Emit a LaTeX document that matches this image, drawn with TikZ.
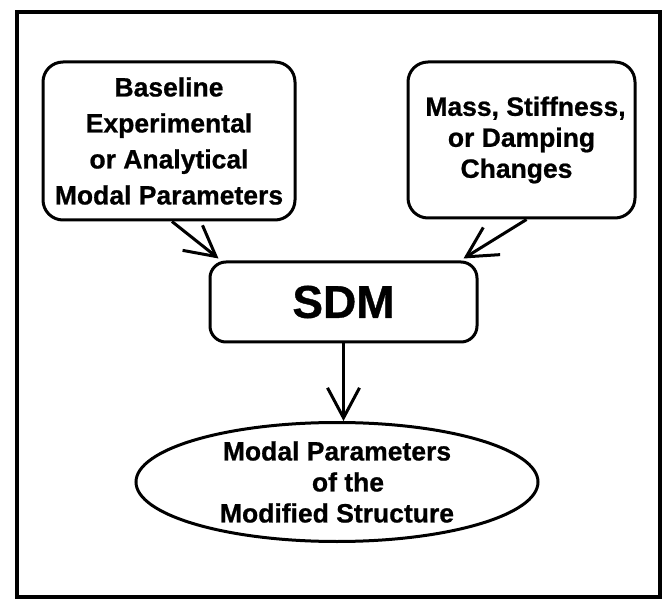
\documentclass[tikz,border=0pt]{standalone}
\usepackage{fontspec}
\setmainfont[BoldFeatures={FakeBold=0.8}]{Liberation Sans}
\usetikzlibrary{arrows.meta,shapes.geometric}
\begin{document}
\begin{tikzpicture}[x=1pt,y=-1pt,
  box/.style={draw,line width=3pt,rounded corners=20pt,align=center,inner sep=0pt},
  txt/.style={font=\fontsize{26.5}{36}\selectfont\bfseries},
  txtb/.style={font=\fontsize{26.5}{31}\selectfont\bfseries},
  flow/.style={line width=3pt,-{Straight Barb[length=30pt,width=32pt]}}]
\useasboundingbox (0,0) rectangle (669,601);
% outer frame
\draw[line width=3.5pt] (17,12) rectangle (660,597);
% inputs
\node[box,txt,minimum width=252pt,minimum height=158pt] (base) at (169,141)
  {Baseline\\Experimental\\or Analytical\\Modal Parameters};
\node[box,txtb,minimum width=227pt,minimum height=156pt] (chg) at (521.5,140)
  {\hspace*{8pt}Mass, Stiffness,\\or Damping\hspace*{16pt}\\Changes\hspace*{10pt}};
% structural dynamics modification
\node[box,rounded corners=16pt,font=\fontsize{46}{46}\selectfont\bfseries,
  minimum width=267pt,minimum height=80pt] (sdm) at (343.5,302) {SDM};
% result
\node[draw,ellipse,line width=3pt,txtb,align=center,inner sep=0pt,
  minimum width=402pt,minimum height=119pt] (res) at (337,482)
  {Modal Parameters\\\hspace*{22pt}of the\\Modified Structure};
% connectors
\draw[flow] ([xshift=3pt]base.south) -- ([xshift=10pt,yshift=2pt]sdm.north west);
\draw[flow] ([xshift=5pt]chg.south) -- ([xshift=-15pt,yshift=2pt]sdm.north east);
\draw[flow] (sdm.south) -- (sdm.south |- res.north);
\end{tikzpicture}
\end{document}
